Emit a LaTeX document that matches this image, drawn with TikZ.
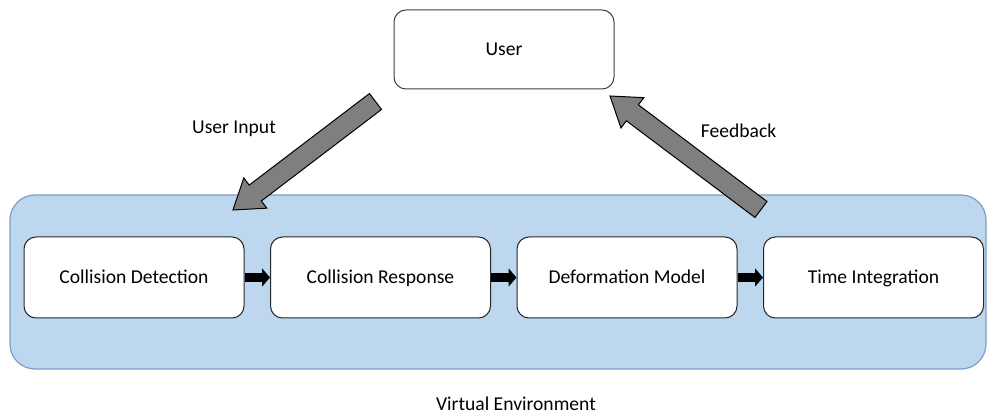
\documentclass[tikz,border=0pt]{standalone}
\usepackage{fontspec}
\setmainfont{Carlito}
\usetikzlibrary{positioning,calc,arrows.meta}
\definecolor{envblue}{HTML}{BDD7EE}
\definecolor{envline}{HTML}{7C9DC8}
\definecolor{arrowgray}{HTML}{7F7F7F}

\begin{document}
\begin{tikzpicture}[x=0.5pt, y=0.5pt,
    every node/.append style={font=\fontsize{9.8}{12}\selectfont, text height=0.644em, text depth=0pt},
    stage/.style={draw=black!85, fill=white, rounded corners=6pt, line width=0.5pt,
                  minimum width=110pt, minimum height=40.5pt},
    flow/.style={line width=4.5pt, -{Triangle[length=4pt,width=9pt]}},
    bigarrow/.style={draw=black, fill=arrowgray, line width=0.5pt, line join=miter}]
    \useasboundingbox (0,0) rectangle (987,413);

    % the virtual environment
    \draw[fill=envblue, draw=envline, line width=0.6pt, rounded corners=12.5pt] (10,44) rectangle (986,218);
    \node (venv) at (516,9) {Virtual Environment};

    % pipeline stages
    \node[stage] (cd) at (134,135.5) {Collision Detection};
    \node[stage, right=12.75pt of cd] (cr) {Collision Response};
    \node[stage, right=12.75pt of cr] (dm) {Deformation Model};
    \node[stage, right=12.75pt of dm] (ti) {Time Integration};
    \foreach \a/\b in {cd/cr, cr/dm, dm/ti}
    \draw[flow] (\a) -- (\b);

    % user and the loop
    \node[stage, minimum height=39.5pt, draw=black!75] (user) at (504,363.5) {User};
    \coordinate (uitail) at (375.5,311.5);
    \coordinate (uitip) at (233,203);
    \coordinate (fbtail) at (761,203.5);
    \coordinate (fbtip) at (610,317);
    \foreach \t/\h in {uitail/uitip, fbtail/fbtip} {
        \coordinate (base) at ($(\h)!14pt!(\t)$);
        \draw[bigarrow] ($(\t)!5pt!-90:(\h)$) -- ($(base)!5pt!-90:(\h)$) -- ($(base)!9.5pt!-90:(\h)$)
            -- (\h) -- ($(base)!9.5pt!90:(\h)$) -- ($(base)!5pt!90:(\h)$) -- ($(\t)!5pt!90:(\h)$) -- cycle;
    }
    \node (uilabel) at (234,285.5) {User Input};
    \node (fblabel) at (738.5,282) {Feedback};
\end{tikzpicture}
\end{document}
